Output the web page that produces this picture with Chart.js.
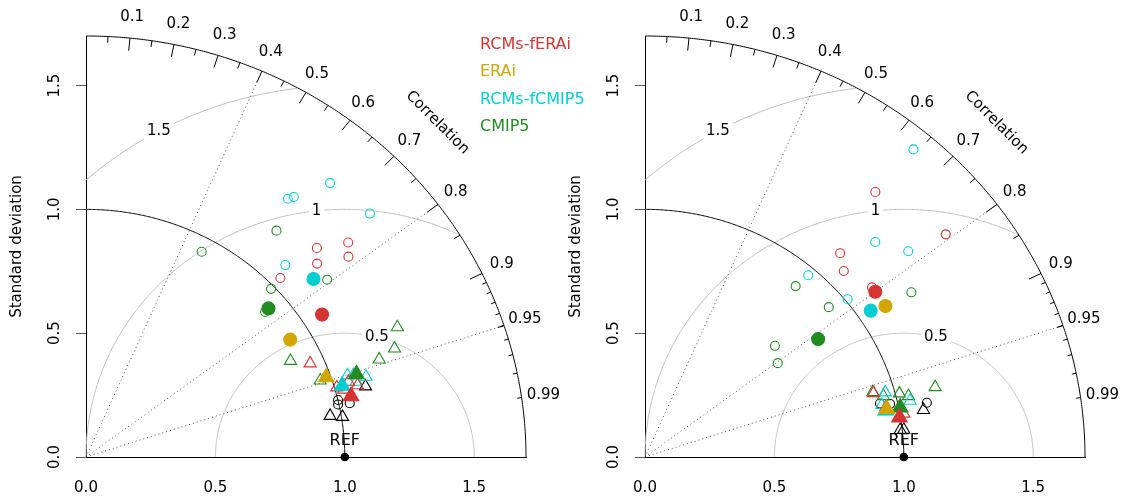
<!DOCTYPE html>
<html>
<head>
<meta charset="utf-8">
<script src="https://cdn.jsdelivr.net/npm/chart.js@4.4.1/dist/chart.umd.min.js"></script>
<style>
  body { margin: 0; background: #fff; }
  #wrap { position: relative; width: 1133px; height: 497px; }
  #left { position: absolute; left: 0; top: 0; z-index: 2; }
  #right { position: absolute; left: 559px; top: 0; z-index: 1; }
</style>
</head>
<body>
<div id="wrap">
  <canvas id="right" width="574" height="497"></canvas>
  <canvas id="left" width="620" height="497"></canvas>
</div>
<script>
// Taylor diagrams - values read as (x, y) = (sd*cor, sd*sin(acos(cor)))

const maxSd = 1.7;
const refSd = 1;
const sdTicks = [0, 0.5, 1, 1.5];
const rmsLevels = [0.5, 1, 1.5];
const corrLines = [0.4, 0.8, 0.95];
const corrLabels = [0.1, 0.2, 0.3, 0.4, 0.5, 0.6, 0.7, 0.8, 0.9, 0.95, 0.99];
const seriesNames = ["RCMs-fERAi", "ERAi", "RCMs-fCMIP5", "CMIP5"];
const refPoint = [[1, 0]];

// left panel
const leftEraRcmCirc = [[0.892, 0.844], [1.013, 0.866], [1.014, 0.809], [0.893, 0.781], [0.751, 0.723]];
const leftEraRcmTri = [[0.866, 0.378], [0.969, 0.281], [1.014, 0.304], [1.049, 0.290], [0.995, 0.272]];
const leftEraRcmMean = [[0.912, 0.575]];
const leftEraRcmMeanTri = [[1.024, 0.246]];
const leftEraMean = [[0.789, 0.474]];
const leftEraMeanTri = [[0.928, 0.322]];
const leftCmipRcmCirc = [[0.943, 1.106], [0.780, 1.043], [0.803, 1.050], [1.097, 0.983], [0.770, 0.775]];
const leftCmipRcmTri = [[1.033, 0.331], [1.082, 0.324], [1.044, 0.304], [1.010, 0.330]];
const leftCmipRcmMean = [[0.879, 0.719]];
const leftCmipRcmMeanTri = [[0.990, 0.288]];
const leftCmipCirc = [[0.736, 0.914], [0.447, 0.829], [0.932, 0.716], [0.715, 0.679], [0.692, 0.586]];
const leftCmipTri = [[1.203, 0.524], [1.192, 0.438], [0.790, 0.388], [1.133, 0.394], [0.905, 0.309]];
const leftCmipMean = [[0.705, 0.600]];
const leftCmipMeanTri = [[1.045, 0.334]];
const leftObsCirc = [[0.974, 0.230], [0.974, 0.212], [1.019, 0.217]];
const leftObsTri = [[1.080, 0.285], [0.943, 0.166], [0.991, 0.162]];

// right panel
const rightEraRcmCirc = [[0.890, 1.070], [1.162, 0.899], [0.754, 0.823], [0.768, 0.751], [0.877, 0.685]];
const rightEraRcmTri = [[0.883, 0.258], [1.000, 0.175], [0.930, 0.200]];
const rightEraRcmMean = [[0.890, 0.667]];
const rightEraRcmMeanTri = [[0.983, 0.160]];
const rightEraMean = [[0.929, 0.610]];
const rightEraMeanTri = [[0.934, 0.194]];
const rightCmipRcmCirc = [[1.037, 1.242], [0.890, 0.868], [1.017, 0.831], [0.631, 0.734], [0.783, 0.637]];
const rightCmipRcmTri = [[0.928, 0.261], [1.024, 0.227], [0.915, 0.210], [0.925, 0.185]];
const rightCmipRcmMean = [[0.872, 0.591]];
const rightCmipRcmMeanTri = [[0.930, 0.188]];
const rightCmipCirc = [[1.029, 0.665], [0.582, 0.690], [0.710, 0.605], [0.502, 0.449], [0.513, 0.379]];
const rightCmipTri = [[1.121, 0.282], [0.880, 0.262], [0.921, 0.246], [0.983, 0.257], [1.018, 0.246]];
const rightCmipMean = [[0.669, 0.476]];
const rightCmipMeanTri = [[0.986, 0.200]];
const rightObsCirc = [[0.908, 0.216], [0.947, 0.214], [1.089, 0.219]];
const rightObsTri = [[1.076, 0.190], [0.986, 0.109], [1.000, 0.110]];

const RED = "#d63333";
const GOLD = "#d2a600";
const CYAN = "#00ced1";
const GREEN = "#228b22";
const seriesColors = [RED, GOLD, CYAN, GREEN];
const FONT = "DejaVu Sans";

Chart.defaults.font.family = FONT;
Chart.defaults.color = "#000";

function pts(arr) {
  return arr.map(p => ({ x: p[0], y: p[1] }));
}

function markers(arr, color, shape, filled, r) {
  return {
    data: pts(arr),
    showLine: false,
    clip: false,
    pointStyle: shape,
    pointRadius: r,
    pointHoverRadius: r,
    pointBorderWidth: 1.1,
    pointBorderColor: color,
    pointBackgroundColor: filled ? color : "rgba(0,0,0,0)",
  };
}

const taylorGrid = {
  id: "taylor",
  beforeDatasetsDraw(chart, args, opts) {
    const ctx = chart.ctx;
    const sx = chart.scales.x, sy = chart.scales.y;
    const px = v => sx.getPixelForValue(v);
    const py = v => sy.getPixelForValue(v);
    ctx.save();

    // centred RMS arcs around the reference
    ctx.strokeStyle = "#bdbdbd";
    ctx.lineWidth = 1;
    rmsLevels.forEach(g => {
      ctx.beginPath();
      let first = true;
      for (let t = 0; t <= Math.PI + 1e-6; t += 0.005) {
        const x = refSd + g * Math.cos(t), y = g * Math.sin(t);
        if (x < 0 || x * x + y * y > maxSd * maxSd) continue;
        if (first) { ctx.moveTo(px(x), py(y)); first = false; }
        else ctx.lineTo(px(x), py(y));
      }
      ctx.stroke();
    });

    // correlation rays
    ctx.strokeStyle = "#555";
    ctx.setLineDash([1, 3]);
    corrLines.forEach(c => {
      ctx.beginPath();
      ctx.moveTo(px(0), py(0));
      ctx.lineTo(px(maxSd * c), py(maxSd * Math.sqrt(1 - c * c)));
      ctx.stroke();
    });
    ctx.setLineDash([]);

    // outer arc and reference sd arc
    ctx.strokeStyle = "#000";
    [maxSd, refSd].forEach(r => {
      ctx.beginPath();
      for (let t = 0; t <= Math.PI / 2 + 1e-6; t += 0.005) {
        const x = r * Math.cos(t), y = r * Math.sin(t);
        if (t === 0) ctx.moveTo(px(x), py(y)); else ctx.lineTo(px(x), py(y));
      }
      ctx.stroke();
    });

    // ticks on the correlation arc
    const tick = (c, len) => {
      const s = Math.sqrt(1 - c * c);
      ctx.beginPath();
      ctx.moveTo(px(maxSd * c), py(maxSd * s));
      ctx.lineTo(px(maxSd * (1 - len) * c), py(maxSd * (1 - len) * s));
      ctx.stroke();
    };
    for (let i = 1; i <= 9; i++) tick(i / 10, 0.03);
    for (let i = 0; i <= 9; i++) tick(0.05 + i / 10, 0.015);
    for (let i = 1; i <= 9; i++) tick(0.9 + i / 100, 0.01);

    // correlation labels
    ctx.fillStyle = "#000";
    ctx.font = "15px " + FONT;
    ctx.textAlign = "center";
    ctx.textBaseline = "middle";
    corrLabels.forEach(c => {
      const r = 1.05 * maxSd;
      ctx.fillText(String(c), px(r * c), py(r * Math.sqrt(1 - c * c)));
    });

    ctx.save();
    ctx.translate(px(1.358), py(1.35));
    ctx.rotate(Math.PI / 4);
    ctx.font = "15px " + FONT;
    ctx.fillText("Correlation", 0, 0);
    ctx.restore();

    // RMS labels on white boxes
    const labelAngles = [1.32, 1.68, 2.07];
    ctx.font = "15px " + FONT;
    rmsLevels.forEach((g, i) => {
      const x = px(refSd + g * Math.cos(labelAngles[i]));
      const y = py(g * Math.sin(labelAngles[i]));
      const txt = String(g);
      const w = ctx.measureText(txt).width;
      ctx.fillStyle = "#fff";
      ctx.fillRect(x - w / 2 - 3, y - 9, w + 6, 18);
      ctx.fillStyle = "#000";
      ctx.fillText(txt, x, y);
    });

    ctx.font = "16px " + FONT;
    ctx.fillText("REF", px(refSd), py(0.065));

    if (opts.legend) {
      ctx.font = "16px " + FONT;
      ctx.textAlign = "left";
      seriesNames.forEach((n, i) => {
        ctx.fillStyle = seriesColors[i];
        ctx.fillText(n, chart.chartArea.left + 394, chart.chartArea.top + 9 + i * 27.3);
      });
    }
    ctx.restore();
  }
};

function makeChart(id, d, legend, width) {
  // bottom first, top last
  const layers = [
    markers(d.obsCirc, "#000", "circle", false, 4.5),
    markers(d.obsTri, "#000", "triangle", false, 7),
    markers(d.cmipCirc, GREEN, "circle", false, 4.5),
    markers(d.cmipTri, GREEN, "triangle", false, 7),
    markers(d.cmipRcmCirc, CYAN, "circle", false, 4.5),
    markers(d.cmipRcmTri, CYAN, "triangle", false, 7),
    markers(d.eraRcmCirc, RED, "circle", false, 4.5),
    markers(d.eraRcmTri, RED, "triangle", false, 7),
    markers(d.cmipMean, GREEN, "circle", true, 6.5),
    markers(d.cmipRcmMean, CYAN, "circle", true, 6.5),
    markers(d.eraMean, GOLD, "circle", true, 6.5),
    markers(d.eraRcmMean, RED, "circle", true, 6.5),
    markers(d.cmipRcmMeanTri, CYAN, "triangle", true, 9),
    markers(d.cmipMeanTri, GREEN, "triangle", true, 9),
    markers(d.eraRcmMeanTri, RED, "triangle", true, 9),
    markers(d.eraMeanTri, GOLD, "triangle", true, 9),
    markers(refPoint, "#000", "circle", true, 3.8),
  ];
  layers.forEach((l, i) => { l.order = layers.length - i; });

  return new Chart(document.getElementById(id), {
    type: "scatter",
    data: { datasets: layers },
    options: {
      responsive: false,
      animation: false,
      events: [],
      layout: { padding: { left: 0, top: 36, right: width - 526, bottom: 0 } },
      plugins: {
        legend: { display: false },
        tooltip: { enabled: false },
        taylor: { legend: legend },
      },
      scales: {
        x: {
          type: "linear",
          min: 0,
          max: maxSd,
          afterBuildTicks: s => { s.ticks = sdTicks.map(v => ({ value: v })); },
          afterFit: s => { s.height = 40; },
          ticks: {
            callback: v => Number(v).toFixed(1),
            font: { size: 15 },
            padding: 22,
            maxRotation: 0,
            autoSkip: false,
          },
          grid: { display: false, drawTicks: false },
          border: { display: true, color: "#000" },
        },
        y: {
          type: "linear",
          min: 0,
          max: maxSd,
          afterBuildTicks: s => { s.ticks = sdTicks.map(v => ({ value: v })); },
          afterFit: s => { s.width = 86; },
          ticks: {
            callback: v => Number(v).toFixed(1),
            font: { size: 15 },
            padding: 9,
            minRotation: 90,
            maxRotation: 90,
            crossAlign: "center",
            autoSkip: false,
          },
          grid: { display: true, drawOnChartArea: false, drawTicks: true, tickLength: 10, color: "#555" },
          border: { display: true, color: "#000" },
          title: { display: true, text: "Standard deviation", font: { size: 15 }, padding: { top: 8, bottom: 0 } },
        },
      },
    },
    plugins: [taylorGrid],
  });
}

makeChart("left", {
  eraRcmCirc: leftEraRcmCirc, eraRcmTri: leftEraRcmTri, eraRcmMean: leftEraRcmMean, eraRcmMeanTri: leftEraRcmMeanTri,
  eraMean: leftEraMean, eraMeanTri: leftEraMeanTri,
  cmipRcmCirc: leftCmipRcmCirc, cmipRcmTri: leftCmipRcmTri, cmipRcmMean: leftCmipRcmMean, cmipRcmMeanTri: leftCmipRcmMeanTri,
  cmipCirc: leftCmipCirc, cmipTri: leftCmipTri, cmipMean: leftCmipMean, cmipMeanTri: leftCmipMeanTri,
  obsCirc: leftObsCirc, obsTri: leftObsTri,
}, true, 620);

makeChart("right", {
  eraRcmCirc: rightEraRcmCirc, eraRcmTri: rightEraRcmTri, eraRcmMean: rightEraRcmMean, eraRcmMeanTri: rightEraRcmMeanTri,
  eraMean: rightEraMean, eraMeanTri: rightEraMeanTri,
  cmipRcmCirc: rightCmipRcmCirc, cmipRcmTri: rightCmipRcmTri, cmipRcmMean: rightCmipRcmMean, cmipRcmMeanTri: rightCmipRcmMeanTri,
  cmipCirc: rightCmipCirc, cmipTri: rightCmipTri, cmipMean: rightCmipMean, cmipMeanTri: rightCmipMeanTri,
  obsCirc: rightObsCirc, obsTri: rightObsTri,
}, false, 574);
</script>
</body>
</html>
